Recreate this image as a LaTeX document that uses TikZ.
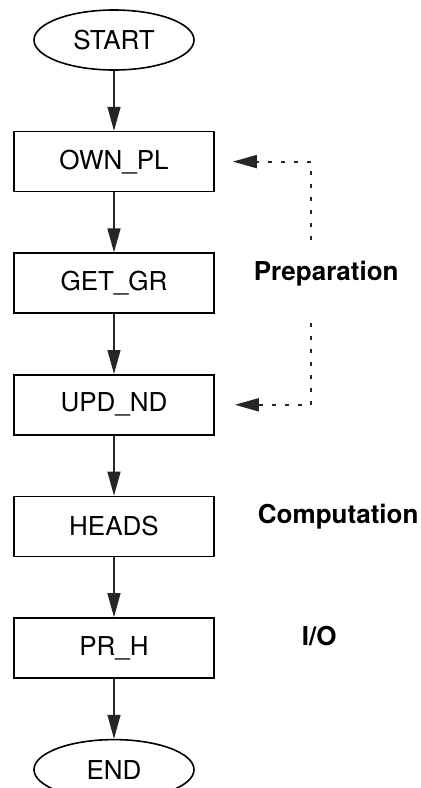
\documentclass[tikz,border=0pt]{standalone}
\usepackage{fontspec}
\setmainfont{TeX Gyre Heros}
\usetikzlibrary{shapes.geometric, arrows.meta, positioning, calc}

\begin{document}
\begin{tikzpicture}[
    node distance=30pt,
    font=\fontsize{13pt}{15pt}\selectfont,
    terminal/.style={ellipse, draw, line width=0.8pt, minimum width=80pt, minimum height=30pt, inner sep=0pt},
    proc/.style={rectangle, draw, line width=0.8pt, minimum width=100pt, minimum height=30pt},
    phase/.style={font=\fontsize{13pt}{15pt}\selectfont\bfseries},
    arrow/.style={-{Triangle[length=12pt,width=6.5pt]}, line width=0.7pt, black!85},
    backlink/.style={-{Triangle[length=12pt,width=6.5pt]}, line width=0.9pt, black!85, dash pattern=on 2pt off 4.5pt}
]
\useasboundingbox (0,0) rectangle (210.5pt,-394pt);

% Flow chart
\node[terminal] (start) at (57pt,-20pt) {START};
\node[proc, below=of start] (ownpl) {OWN\_PL};
\node[proc, below=of ownpl] (getgr) {GET\_GR};
\node[proc, below=of getgr] (updnd) {UPD\_ND};
\node[proc, below=of updnd] (heads) {HEADS};
\node[proc, below=of heads] (prh) {PR\_H};
\node[terminal, below=of prh] (end) {END};

\draw[arrow] (start) -- (ownpl);
\draw[arrow] (ownpl) -- (getgr);
\draw[arrow] (getgr) -- (updnd);
\draw[arrow] (updnd) -- (heads);
\draw[arrow] (heads) -- (prh);
\draw[arrow] (prh) -- (end);

% Phase labels
\node[phase, right=16pt of getgr, yshift=5pt] (prep) {Preparation};
\node[phase, right=18pt of heads, yshift=5pt] (comp) {Computation};
\node[phase, right=40pt of prh, yshift=6pt] (io) {I/O};

% Bracket for the preparation phase
\coordinate (c1) at ($(ownpl.east)+(48pt,0)$);
\coordinate (g1) at ($(c1)+(0,-39pt)$);
\coordinate (c2) at ($(updnd.east)+(48pt,0)$);
\coordinate (g2) at ($(c2)+(0,41pt)$);
\draw[backlink, shorten >=9pt] (g1) -- (c1) -- (ownpl);
\draw[backlink, shorten >=10pt] (g2) -- (c2) -- (updnd);

\end{tikzpicture}
\end{document}
